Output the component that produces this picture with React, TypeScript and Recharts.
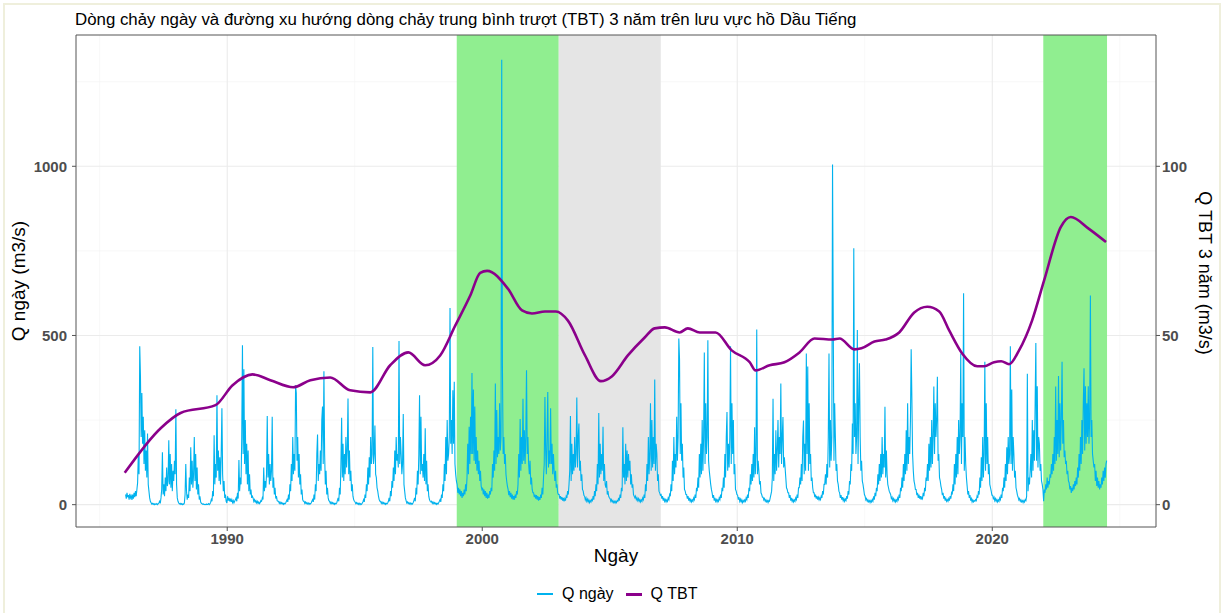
import {
  LineChart,
  Line,
  XAxis,
  YAxis,
  CartesianGrid,
  ReferenceArea,
  ReferenceLine,
  Label,
} from "recharts";

// ── Data ──────────────────────────────────────────────────────────────

const FIRST_YEAR = 1986;
const PER_YEAR = 36; // ~10-day readings

// Q ngày (m3/s), 36 readings per year, 1986 → mid 2024
const qDaily: number[][] = [
  [30, 18, 35, 22, 28, 15, 32, 20, 26, 14, 30, 18, 35, 22, 40, 25, 45, 65, 150, 90, 468, 380, 200, 330, 180, 260, 120, 220, 100, 160, 80, 210, 60, 40, 20, 10], // 1986
  [6, 2, 4, 1, 3, 0, 2, 1, 3, 0, 2, 5, 10, 4, 20, 45, 155, 30, 60, 25, 80, 40, 110, 55, 70, 190, 60, 150, 50, 120, 40, 100, 70, 130, 90, 282],
  [60, 20, 10, 5, 2, 4, 1, 3, 0, 2, 1, 5, 30, 120, 40, 15, 30, 20, 80, 40, 170, 60, 130, 50, 90, 200, 70, 150, 45, 110, 30, 60, 15, 25, 8, 4],
  [3, 1, 2, 0, 1, 0, 2, 0, 1, 3, 0, 2, 6, 15, 10, 40, 25, 205, 60, 120, 80, 323, 100, 160, 70, 140, 60, 150, 285, 90, 40, 70, 20, 30, 10, 5],
  [25, 12, 20, 10, 18, 8, 15, 6, 12, 5, 10, 15, 20, 10, 35, 18, 132, 40, 80, 60, 200, 471, 150, 400, 120, 250, 90, 180, 60, 160, 40, 90, 30, 45, 20, 25], // 1990
  [20, 10, 15, 8, 12, 5, 10, 4, 8, 3, 6, 12, 10, 20, 15, 110, 40, 70, 50, 90, 262, 80, 150, 60, 120, 70, 100, 260, 50, 80, 30, 50, 18, 25, 12, 10],
  [10, 4, 8, 3, 6, 2, 5, 1, 4, 2, 5, 10, 15, 8, 30, 15, 60, 40, 120, 70, 200, 90, 150, 100, 353, 330, 130, 200, 80, 150, 60, 90, 30, 45, 15, 10],
  [10, 4, 8, 3, 6, 2, 5, 1, 4, 2, 5, 10, 15, 8, 30, 15, 60, 40, 150, 207, 70, 120, 90, 160, 100, 250, 290, 120, 394, 150, 60, 100, 30, 50, 20, 12],
  [10, 4, 8, 3, 6, 2, 5, 1, 4, 2, 5, 12, 20, 10, 50, 30, 120, 257, 80, 180, 70, 150, 90, 200, 110, 160, 314, 90, 160, 70, 100, 40, 60, 25, 15, 10],
  [8, 3, 6, 2, 5, 1, 4, 0, 3, 1, 4, 8, 15, 8, 30, 20, 60, 40, 110, 60, 140, 80, 200, 120, 150, 466, 120, 150, 234, 90, 80, 50, 40, 25, 15, 10], // 1995
  [10, 4, 8, 3, 6, 2, 5, 1, 4, 2, 5, 10, 20, 10, 40, 25, 70, 50, 110, 70, 160, 90, 200, 130, 150, 110, 484, 120, 200, 150, 90, 120, 268, 60, 40, 20],
  [12, 5, 8, 3, 6, 2, 5, 1, 4, 2, 6, 12, 20, 10, 50, 30, 100, 60, 150, 323, 90, 260, 100, 120, 80, 150, 70, 226, 60, 130, 40, 60, 25, 15, 10, 8],
  [10, 4, 8, 3, 6, 2, 5, 1, 4, 2, 6, 10, 15, 8, 30, 20, 60, 40, 120, 70, 200, 90, 250, 130, 150, 200, 581, 180, 250, 150, 338, 180, 363, 120, 90, 70],
  [60, 35, 50, 30, 45, 25, 40, 20, 35, 25, 45, 30, 60, 40, 80, 180, 90, 230, 120, 260, 150, 389, 150, 340, 130, 290, 120, 200, 100, 160, 90, 130, 70, 100, 55, 45],
  [50, 30, 45, 25, 40, 20, 35, 18, 30, 20, 40, 30, 50, 40, 120, 80, 160, 100, 358, 120, 280, 140, 200, 150, 300, 160, 200, 1315, 409, 150, 200, 120, 150, 90, 70, 55], // 2000
  [45, 28, 40, 22, 35, 18, 30, 15, 25, 15, 30, 20, 40, 30, 60, 150, 80, 253, 100, 200, 120, 313, 130, 220, 120, 200, 397, 150, 200, 120, 90, 130, 60, 80, 45, 35],
  [35, 22, 30, 18, 28, 15, 25, 12, 22, 14, 30, 20, 50, 30, 80, 120, 318, 160, 90, 200, 333, 110, 160, 120, 285, 120, 180, 90, 150, 100, 70, 100, 50, 60, 35, 30],
  [30, 18, 25, 15, 22, 12, 20, 10, 18, 12, 25, 20, 40, 30, 60, 100, 262, 70, 180, 90, 150, 100, 200, 110, 150, 317, 110, 200, 240, 100, 130, 70, 90, 45, 40, 28],
  [25, 14, 20, 10, 16, 8, 14, 6, 12, 8, 15, 12, 25, 15, 40, 25, 60, 40, 120, 60, 271, 80, 180, 90, 150, 100, 230, 70, 120, 60, 50, 70, 30, 40, 25, 20],
  [18, 10, 15, 8, 12, 6, 10, 5, 10, 6, 12, 10, 20, 12, 30, 20, 50, 40, 229, 80, 120, 60, 180, 70, 160, 80, 150, 100, 130, 60, 90, 50, 60, 30, 25, 20], // 2005
  [25, 15, 20, 12, 18, 10, 15, 8, 14, 10, 20, 15, 30, 20, 60, 40, 120, 70, 200, 90, 150, 300, 100, 250, 110, 200, 120, 370, 100, 180, 150, 70, 90, 40, 35, 28],
  [30, 18, 25, 12, 20, 10, 15, 8, 14, 10, 20, 15, 30, 25, 60, 40, 130, 70, 200, 90, 150, 110, 260, 130, 200, 491, 430, 150, 300, 130, 180, 80, 110, 45, 40, 30],
  [30, 18, 25, 12, 20, 10, 15, 8, 14, 10, 20, 15, 30, 20, 50, 40, 80, 50, 150, 80, 180, 90, 250, 100, 200, 450, 120, 300, 150, 200, 486, 130, 100, 80, 60, 45],
  [35, 20, 28, 12, 20, 10, 15, 8, 14, 10, 20, 15, 30, 20, 50, 40, 80, 50, 150, 80, 200, 274, 100, 180, 110, 200, 468, 120, 300, 150, 250, 90, 120, 45, 40, 30],
  [28, 15, 22, 10, 16, 8, 14, 6, 12, 8, 14, 10, 20, 15, 30, 20, 50, 40, 90, 60, 120, 70, 150, 80, 229, 90, 150, 518, 90, 130, 100, 60, 70, 35, 30, 22], // 2010
  [22, 14, 18, 10, 14, 8, 12, 6, 12, 10, 20, 30, 40, 80, 313, 70, 150, 90, 220, 100, 160, 250, 110, 200, 150, 358, 120, 200, 259, 110, 140, 110, 80, 50, 45, 35],
  [35, 20, 28, 12, 20, 10, 15, 8, 14, 10, 20, 15, 30, 20, 50, 50, 80, 60, 120, 70, 200, 249, 90, 180, 100, 447, 150, 408, 100, 300, 120, 150, 70, 80, 50, 35],
  [35, 22, 30, 18, 25, 15, 22, 14, 20, 15, 25, 20, 40, 30, 60, 60, 90, 60, 120, 80, 200, 447, 110, 250, 130, 200, 1005, 541, 130, 300, 200, 100, 120, 70, 60, 40],
  [35, 20, 28, 15, 22, 12, 18, 10, 16, 12, 25, 18, 40, 30, 70, 60, 120, 100, 240, 150, 758, 200, 300, 150, 200, 516, 120, 300, 418, 200, 100, 130, 70, 60, 45, 30],
  [25, 14, 18, 10, 14, 8, 12, 6, 12, 8, 15, 10, 25, 15, 35, 25, 50, 40, 90, 60, 120, 70, 150, 80, 200, 90, 150, 110, 289, 80, 160, 90, 60, 50, 40, 35], // 2015
  [30, 18, 22, 12, 18, 10, 15, 8, 14, 10, 20, 15, 30, 20, 50, 40, 80, 50, 120, 70, 150, 90, 220, 100, 300, 120, 200, 150, 250, 459, 314, 150, 100, 70, 60, 45],
  [45, 28, 35, 20, 30, 18, 25, 15, 22, 18, 35, 25, 50, 40, 80, 70, 120, 70, 180, 100, 200, 110, 250, 120, 200, 349, 150, 300, 200, 250, 378, 130, 150, 80, 70, 55],
  [45, 28, 35, 18, 25, 12, 18, 10, 15, 10, 18, 12, 25, 18, 35, 30, 60, 40, 120, 60, 150, 80, 200, 90, 250, 150, 200, 447, 120, 300, 200, 625, 100, 200, 120, 80],
  [55, 30, 40, 20, 28, 12, 18, 8, 14, 8, 12, 10, 15, 12, 25, 20, 40, 30, 80, 50, 140, 70, 200, 80, 150, 422, 100, 300, 120, 200, 90, 120, 60, 50, 40, 28],
  [28, 18, 22, 12, 18, 10, 15, 8, 14, 10, 20, 15, 30, 20, 50, 40, 80, 50, 120, 70, 170, 90, 200, 120, 150, 468, 120, 340, 100, 200, 150, 80, 100, 50, 40, 28], // 2020
  [22, 14, 18, 10, 14, 8, 12, 6, 12, 8, 15, 12, 25, 387, 40, 80, 60, 100, 150, 80, 250, 100, 220, 130, 300, 478, 130, 350, 110, 200, 180, 100, 120, 70, 60, 45],
  [10, 45, 35, 60, 45, 80, 50, 70, 60, 90, 80, 120, 90, 150, 100, 200, 120, 349, 130, 250, 150, 380, 140, 300, 160, 250, 422, 180, 250, 140, 160, 120, 130, 90, 100, 70],
  [65, 45, 55, 35, 50, 40, 60, 45, 70, 55, 80, 60, 110, 80, 150, 100, 200, 120, 250, 150, 300, 403, 160, 350, 180, 300, 200, 350, 180, 250, 618, 200, 250, 150, 130, 110],
  [120, 70, 100, 55, 80, 50, 70, 45, 60, 50, 80, 60, 100, 70, 110, 80, 120, 130], // 2024 (Jan–Jun)
];

// Q TBT 3 năm (m3/s), right axis
const tbtTime = [
  1985.98, 1987.39, 1988.17, 1989.54, 1990.21, 1990.99, 1991.69, 1992.59, 1993.26, 1994.04,
  1994.82, 1995.61, 1996.39, 1997.1, 1997.76, 1998.35, 1998.94, 1999.53, 1999.92, 2000.19,
  2001.01, 2001.56, 2001.95, 2002.46, 2002.89, 2003.36, 2004.03, 2004.65, 2005.08, 2005.71,
  2006.37, 2006.76, 2007.16, 2007.74, 2008.06, 2008.53, 2009.15, 2009.78, 2010.49, 2010.72,
  2011.27, 2011.85, 2012.44, 2013.03, 2013.73, 2014.01, 2014.59, 2014.87, 2015.38, 2015.81,
  2016.35, 2016.94, 2017.45, 2017.92, 2018.31, 2018.82, 2019.41, 2019.68, 2020.07, 2020.35,
  2020.66, 2021.05, 2021.56, 2022.03, 2022.69, 2023.08, 2023.79, 2024.46,
];
const tbtValue = [
  9.4, 22.6, 27.1, 29.4, 35.3, 38.5, 36.8, 34.7, 36.8, 37.6,
  33.8, 33.2, 41.2, 45.0, 41.2, 44.1, 52.9, 61.8, 68.5, 69.1,
  63.8, 57.4, 56.5, 57.1, 57.1, 54.4, 44.1, 36.5, 37.9, 44.1,
  49.4, 52.1, 52.4, 50.9, 52.1, 50.9, 50.9, 45.6, 42.1, 39.7,
  41.2, 42.1, 45.0, 49.1, 48.8, 49.1, 45.9, 46.2, 48.2, 48.8,
  50.9, 56.8, 58.5, 57.1, 51.5, 44.7, 40.9, 40.9, 42.1, 42.4,
  41.5, 45.6, 54.4, 66.2, 82.1, 85.0, 81.5, 77.6,
];

const xTicks = [1990, 2000, 2010, 2020];
const xMinor = [1985, 1995, 2005, 2015, 2025];
const yLeftTicks = [0, 500, 1000];
const yLeftMinor = [250, 750, 1250];
const yRightTicks = [0, 50, 100];

const periods = [
  { from: 1999, to: 2003, color: "#90EE90" },
  { from: 2003, to: 2007, color: "#E5E5E5" },
  { from: 2022, to: 2024.5, color: "#90EE90" },
];

const X_DOMAIN: [number, number] = [1984.07, 2026.42];
const Y_LEFT_DOMAIN: [number, number] = [-66, 1388];
const Y_RIGHT_DOMAIN: [number, number] = [-6.6, 138.8];

const dailyPoints = qDaily.flatMap((vals, k) =>
  vals.map((q, i) => ({ t: FIRST_YEAR + k + (i + 0.5) / PER_YEAR, q })),
);
const tbtPoints = tbtTime.map((t, i) => ({ t, v: tbtValue[i] }));

// ── Styles ────────────────────────────────────────────────────────────

const FONT = "'Liberation Sans', Arial, sans-serif";
const tickStyle = { fontSize: 15, fontWeight: 700, fill: "#4D4D4D", fontFamily: FONT };
const BORDER = "#555555";

// ── Axis titles ───────────────────────────────────────────────────────

function leftTitle(props: any) {
  const { x, y, height } = props.viewBox;
  const cx = x + 18;
  const cy = y + height / 2;
  return (
    <text x={cx} y={cy} transform={`rotate(-90 ${cx} ${cy})`} textAnchor="middle"
      dominantBaseline="central" style={{ fontSize: 19, fill: "#000", fontFamily: FONT }}>
      Q ngày (m3/s)
    </text>
  );
}

function rightTitle(props: any) {
  const { x, y, height } = props.viewBox;
  const cx = x + 49;
  const cy = y + height / 2 - 8;
  return (
    <text x={cx} y={cy} transform={`rotate(90 ${cx} ${cy})`} textAnchor="middle"
      dominantBaseline="central" style={{ fontSize: 18, fill: "#000", fontFamily: FONT }}>
      Q TBT 3 năm (m3/s)
    </text>
  );
}

function bottomTitle(props: any) {
  const { x, y, width } = props.viewBox;
  return (
    <text x={x + width / 2} y={y + 35} textAnchor="middle"
      style={{ fontSize: 19, fill: "#000", fontFamily: FONT }}>
      Ngày
    </text>
  );
}

// ── Main component ────────────────────────────────────────────────────

export default function App() {
  return (
    <div style={{ position: "relative", width: 1221, height: 613, background: "#FFFFFF", fontFamily: FONT }}>
      <style>{`body { margin: 0; }`}</style>

      {/* outer frame */}
      <div style={{
        position: "absolute", left: 3, top: 3, width: 1214, height: 612,
        border: "2px solid #EFEFDC", borderBottom: "none", pointerEvents: "none",
      }} />

      {/* title */}
      <div style={{ position: "absolute", left: 75, top: 10, fontSize: 16.85, color: "#000", whiteSpace: "nowrap" }}>
        Dòng chảy ngày và đường xu hướng dòng chảy trung bình trượt (TBT) 3 năm trên lưu vực hồ Dầu Tiếng
      </div>

      <LineChart width={1221} height={613} margin={{ top: 35, right: 0, bottom: 0, left: 0 }}>
        <CartesianGrid yAxisId="left" stroke="#F3F3F3" strokeWidth={0.6}
          horizontalValues={yLeftMinor} verticalValues={xMinor} />
        <CartesianGrid yAxisId="left" stroke="#EBEBEB" strokeWidth={1.1}
          horizontalValues={yLeftTicks} verticalValues={xTicks} />

        {periods.map((p) => (
          <ReferenceArea key={p.from} yAxisId="left" x1={p.from} x2={p.to}
            y1={Y_LEFT_DOMAIN[0]} y2={Y_LEFT_DOMAIN[1]}
            fill={p.color} fillOpacity={1} stroke="none" ifOverflow="visible" />
        ))}

        <XAxis dataKey="t" type="number" domain={X_DOMAIN} allowDataOverflow ticks={xTicks}
          height={86} tick={tickStyle} tickSize={4} tickLine={{ stroke: BORDER }}
          axisLine={{ stroke: BORDER }}>
          <Label content={bottomTitle} />
        </XAxis>
        <YAxis yAxisId="left" type="number" domain={Y_LEFT_DOMAIN} allowDataOverflow ticks={yLeftTicks}
          width={76} tick={tickStyle} tickSize={4} tickMargin={5} tickLine={{ stroke: BORDER }}
          axisLine={{ stroke: BORDER }}>
          <Label content={leftTitle} />
        </YAxis>
        <YAxis yAxisId="right" orientation="right" type="number" domain={Y_RIGHT_DOMAIN} allowDataOverflow
          ticks={yRightTicks} width={65} tick={tickStyle} tickSize={4} tickLine={{ stroke: BORDER }}
          axisLine={{ stroke: BORDER }}>
          <Label content={rightTitle} />
        </YAxis>

        <ReferenceLine yAxisId="left" y={Y_LEFT_DOMAIN[1]} stroke={BORDER} ifOverflow="visible" />

        <Line yAxisId="left" data={dailyPoints} dataKey="q" type="linear" stroke="#00B2EE"
          strokeWidth={1.1} dot={false} isAnimationActive={false} />
        <Line yAxisId="right" data={tbtPoints} dataKey="v" type="monotone" stroke="#8B008B"
          strokeWidth={2.6} dot={false} isAnimationActive={false} />
      </LineChart>

      {/* legend */}
      <div style={{ position: "absolute", top: 584, left: 537, height: 20, display: "flex", alignItems: "center", fontSize: 16, color: "#000" }}>
        <span style={{ display: "inline-block", width: 16, height: 1.5, background: "#00B2EE", marginRight: 9 }} />
        <span style={{ marginRight: 12 }}>Q ngày</span>
        <span style={{ display: "inline-block", width: 16, height: 3, background: "#8B008B", marginRight: 9 }} />
        <span>Q TBT</span>
      </div>
    </div>
  );
}
